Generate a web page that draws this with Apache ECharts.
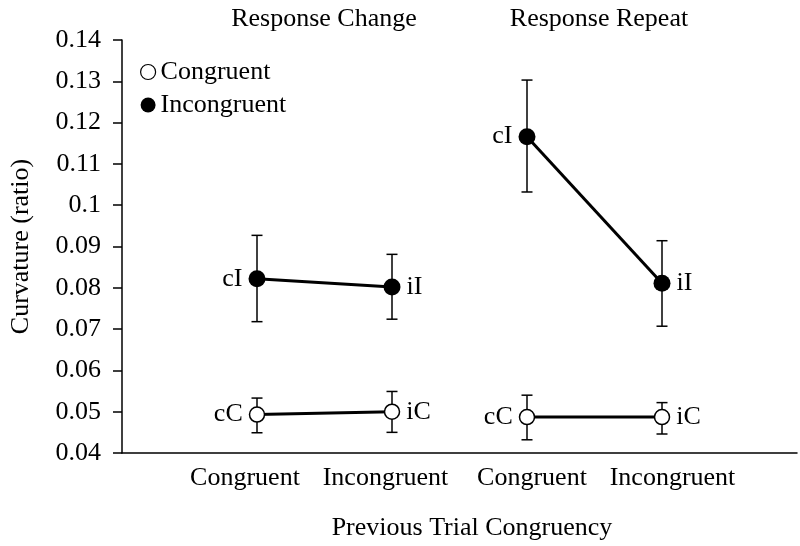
<!DOCTYPE html>
<html>
<head>
<meta charset="utf-8">
<script src="https://cdn.jsdelivr.net/npm/echarts@6/dist/echarts.min.js"></script>
<style>html,body{margin:0;padding:0;background:#fff}#c{width:800px;height:546px}</style>
</head>
<body>
<div id="c"></div>
<script>
// ---- data ----
var xCategories = ['', 'Congruent', 'Incongruent', 'Congruent', 'Incongruent', ''];
var groupTitles = ['Response Change', 'Response Repeat'];
var congruentMean = [0.0493, 0.0500, 0.0487, 0.0487];
var congruentLow  = [0.0449, 0.0450, 0.0432, 0.0446];
var congruentHigh = [0.0533, 0.0549, 0.0540, 0.0522];
var incongruentMean = [0.0822, 0.0802, 0.1166, 0.0811];
var incongruentLow  = [0.0718, 0.0724, 0.1032, 0.0707];
var incongruentHigh = [0.0927, 0.0881, 0.1303, 0.0914];
var congruentPointLabels = ['cC', 'iC', 'cC', 'iC'];
var incongruentPointLabels = ['cI', 'iI', 'cI', 'iI'];
var yTicks = { min: 0.04, max: 0.14, interval: 0.01 };

// ---- styling ----
var FONT = 'Liberation Serif';
var FS = 26;
var labelPads = { s1: [0, 24, 0, 0], s2: [0, 13, 0, 0], s3: [0, 0, 0, 10], s4: [0, 0, 0, 21] };

function groupData(means, labels, g) {
  var out = [];
  for (var i = 0; i < xCategories.length; i++) out.push('-');
  for (var k = 0; k < 2; k++) {
    var idx = g * 2 + k;
    out[idx + 1] = {
      value: means[idx],
      label: { show: true, formatter: labels[idx], position: k === 0 ? 'left' : 'right', distance: 6,
               fontFamily: FONT, fontSize: FS, color: '#000' }
    };
  }
  return out;
}
function errData(low, high) {
  return low.map(function (l, i) { return [i + 1, l, high[i]]; });
}
function errSeries(low, high) {
  return {
    type: 'custom', z: 1, silent: true,
    data: errData(low, high),
    renderItem: function (params, api) {
      var x = api.value(0);
      var lo = api.coord([x, api.value(1)]);
      var hi = api.coord([x, api.value(2)]);
      var hw = 5.5;
      var st = { stroke: '#000', lineWidth: 1.5 };
      return { type: 'group', children: [
        { type: 'line', shape: { x1: lo[0], y1: lo[1], x2: hi[0], y2: hi[1] }, style: st },
        { type: 'line', shape: { x1: lo[0] - hw, y1: lo[1], x2: lo[0] + hw, y2: lo[1] }, style: st },
        { type: 'line', shape: { x1: hi[0] - hw, y1: hi[1], x2: hi[0] + hw, y2: hi[1] }, style: st }
      ]};
    }
  };
}
function lineSeries(name, means, labels, g, filled) {
  return {
    name: name, type: 'line', z: 3,
    data: groupData(means, labels, g),
    connectNulls: false,
    symbol: 'circle', symbolSize: filled ? 17 : 15,
    lineStyle: { color: '#000', width: 3 },
    itemStyle: { color: filled ? '#000' : '#fff', borderColor: '#000', borderWidth: filled ? 0 : 1.5 },
    emphasis: { disabled: true },
    animation: false
  };
}

var rich = {};
Object.keys(labelPads).forEach(function (k) {
  rich[k] = { fontFamily: FONT, fontSize: FS, color: '#000', padding: labelPads[k] };
});

var chart = echarts.init(document.getElementById('c'), null, { renderer: 'canvas' });
chart.setOption({
  animation: false,
  textStyle: { fontFamily: FONT, color: '#000' },
  title: [
    { text: groupTitles[0], left: 319, top: 1, textAlign: 'center',
      textStyle: { fontFamily: FONT, fontSize: FS, fontWeight: 'normal', color: '#000' } },
    { text: groupTitles[1], left: 594, top: 1, textAlign: 'center',
      textStyle: { fontFamily: FONT, fontSize: FS, fontWeight: 'normal', color: '#000' } }
  ],
  legend: {
    left: 135, top: 54, orient: 'vertical', itemGap: 7, itemWidth: 15, itemHeight: 15,
    data: [
      { name: 'Congruent', icon: 'circle', itemStyle: { color: '#fff', borderColor: '#000', borderWidth: 1.2 } },
      { name: 'Incongruent', icon: 'circle', itemStyle: { color: '#000' } }
    ],
    textStyle: { fontFamily: FONT, fontSize: FS, color: '#000' }
  },
  grid: { left: 118, right: 3, top: 40, bottom: 92 },
  xAxis: {
    type: 'category', data: xCategories, boundaryGap: false,
    axisLine: { lineStyle: { color: '#000', width: 1.5 } },
    axisTick: { show: false },
    axisLabel: {
      interval: 0, fontFamily: FONT, fontSize: FS, color: '#000', margin: 12,
      formatter: function (v, i) { return v ? '{s' + i + '|' + v + '}' : ''; },
      rich: rich
    },
    name: 'Previous Trial Congruency', nameLocation: 'middle', nameGap: 62,
    nameTextStyle: { fontFamily: FONT, fontSize: FS, color: '#000', padding: [0, 0, 0, 25] }
  },
  yAxis: {
    type: 'value', min: yTicks.min, max: yTicks.max, interval: yTicks.interval,
    axisLine: { show: true, lineStyle: { color: '#000', width: 1.5 } },
    axisTick: { show: true, length: 9, lineStyle: { color: '#000', width: 1.5 } },
    splitLine: { show: false },
    axisLabel: { fontFamily: FONT, fontSize: FS, color: '#000', margin: 21 },
    name: 'Curvature (ratio)', nameLocation: 'middle', nameGap: 88,
    nameTextStyle: { fontFamily: FONT, fontSize: FS, color: '#000' }
  },
  series: [
    errSeries(congruentLow, congruentHigh),
    errSeries(incongruentLow, incongruentHigh),
    lineSeries('Congruent', congruentMean, congruentPointLabels, 0, false),
    lineSeries('Congruent', congruentMean, congruentPointLabels, 1, false),
    lineSeries('Incongruent', incongruentMean, incongruentPointLabels, 0, true),
    lineSeries('Incongruent', incongruentMean, incongruentPointLabels, 1, true)
  ]
});
</script>
</body>
</html>
